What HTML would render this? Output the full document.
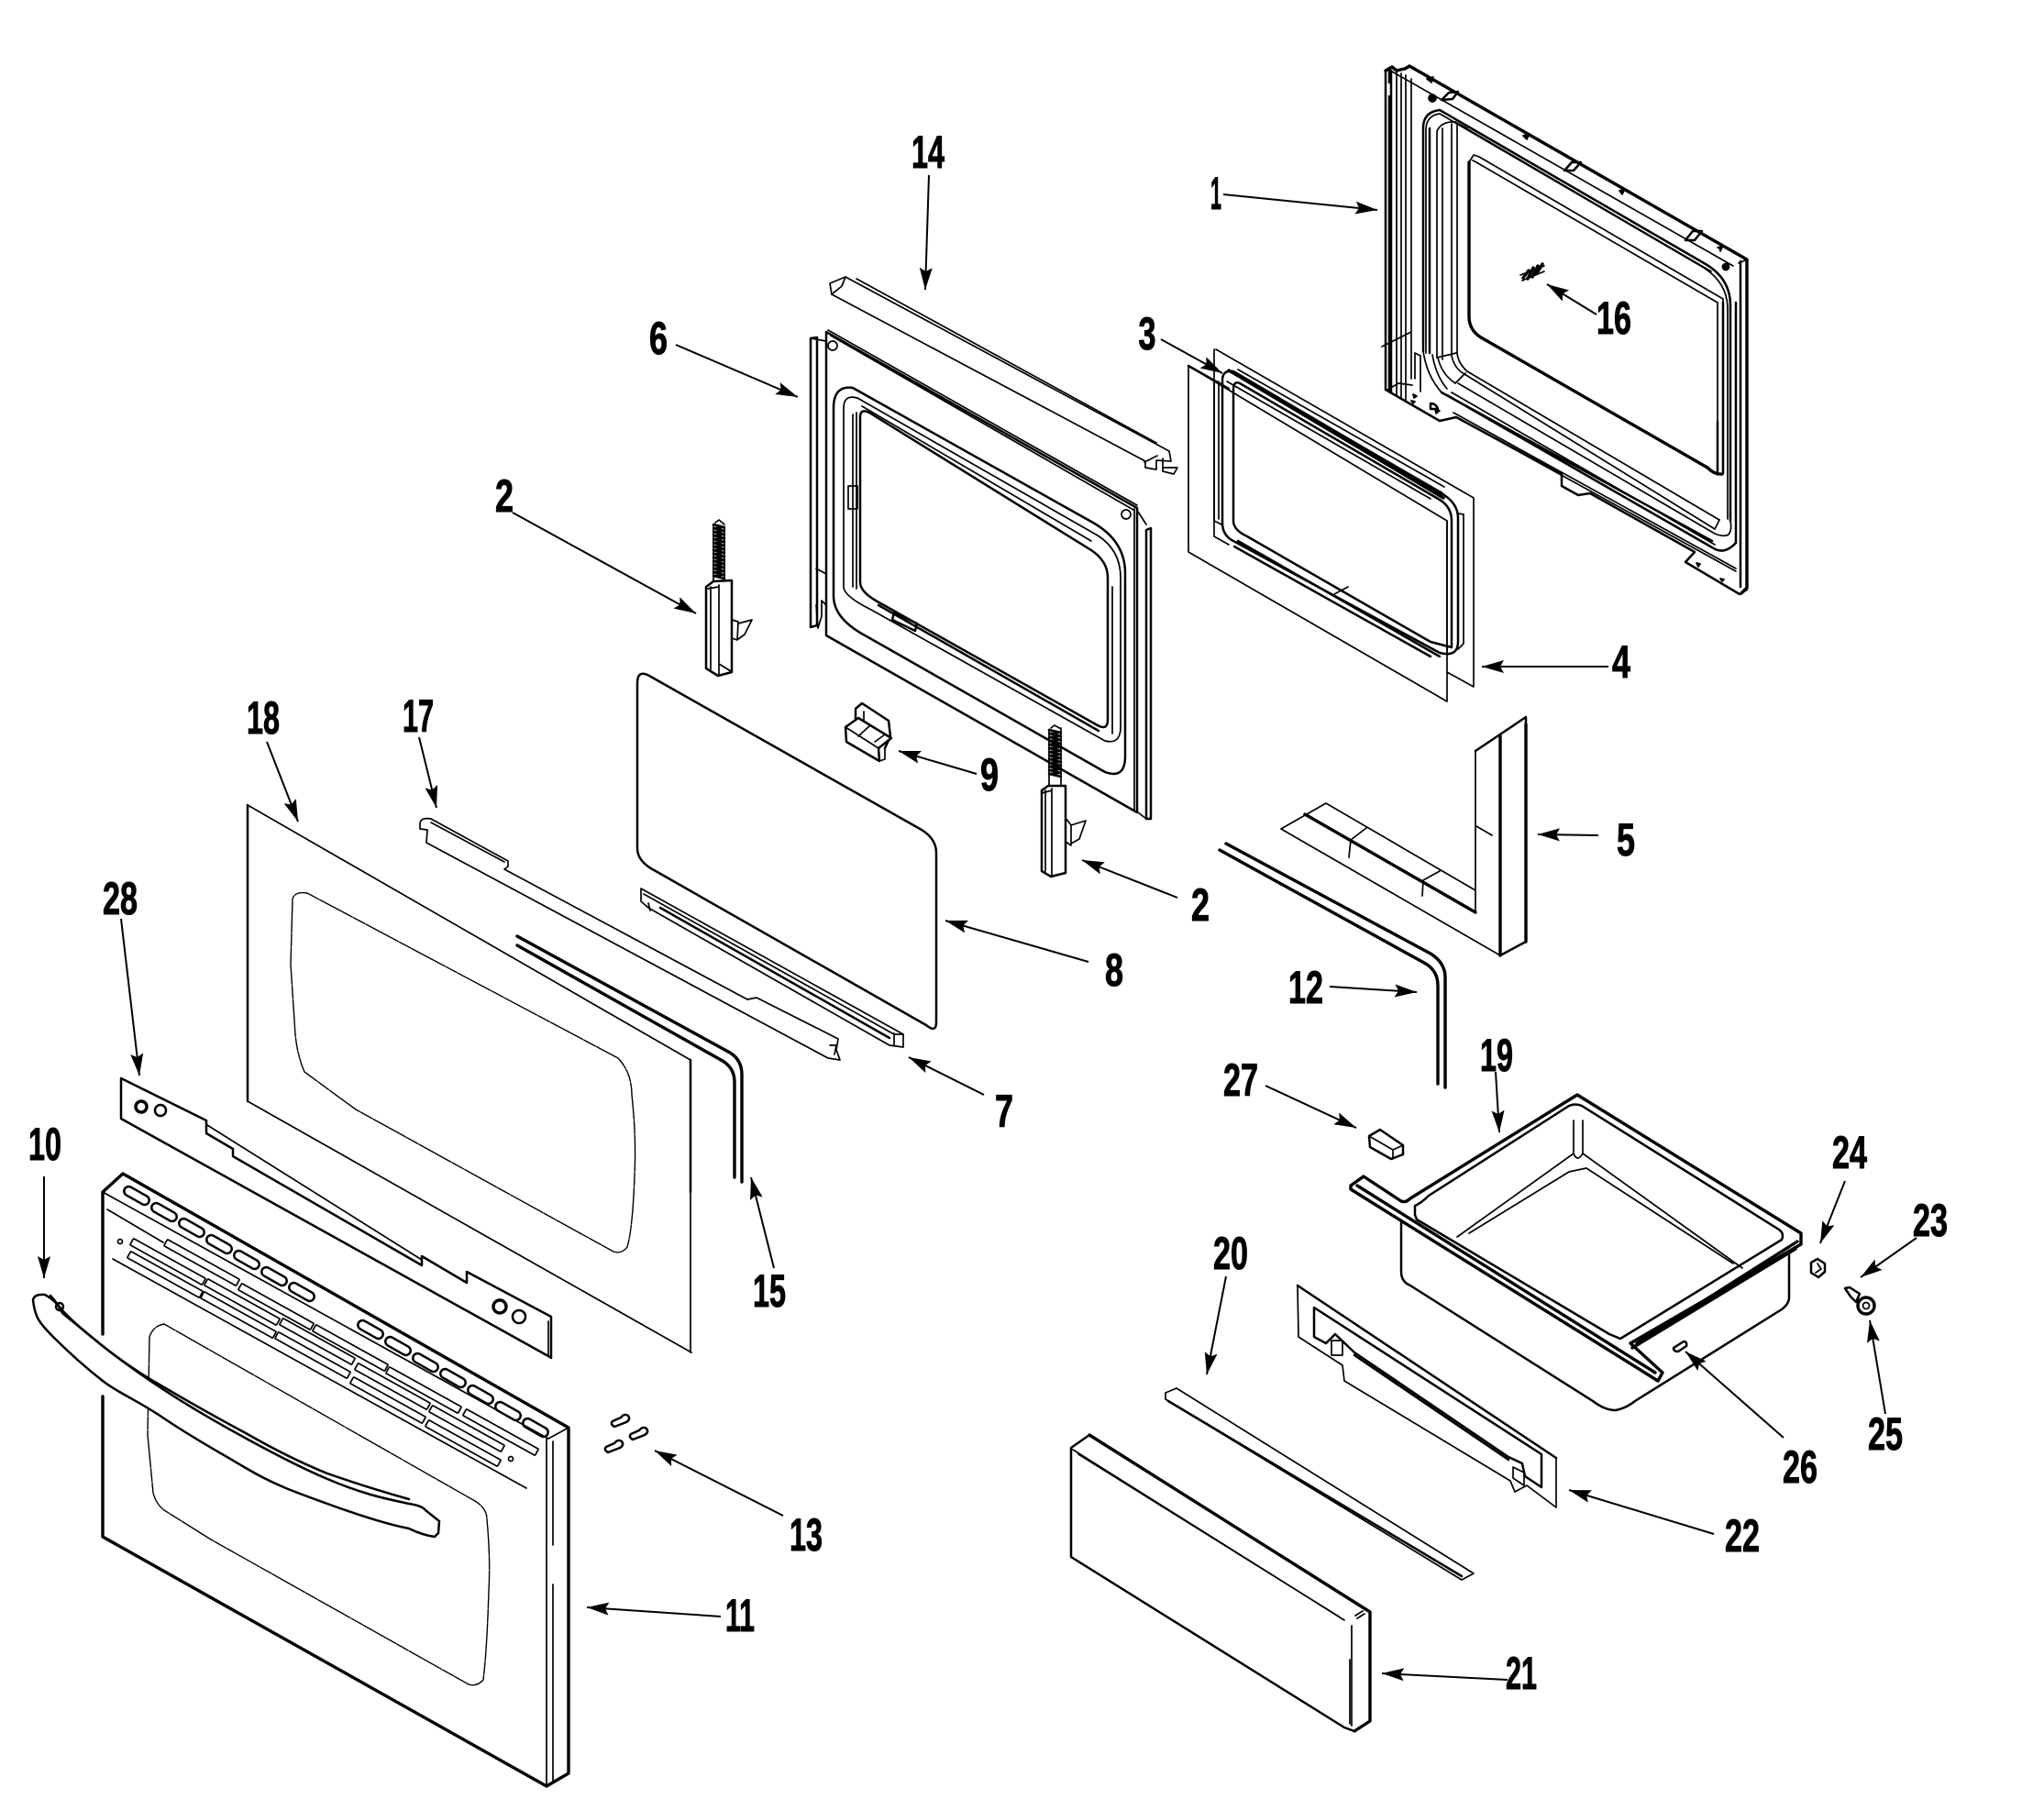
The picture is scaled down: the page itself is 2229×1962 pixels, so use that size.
<!DOCTYPE html>
<html><head><meta charset="utf-8"><title>Door and drawer parts diagram</title>
<style>
html,body{margin:0;padding:0;background:#fff}
svg{display:block}
text{font-family:"Liberation Sans Narrow","Liberation Sans",sans-serif;font-weight:bold;font-size:50px;fill:#000;text-anchor:middle;stroke:#000;stroke-width:1}
.p path,.p line,.p polyline,.p polygon,.p rect,.p circle{fill:none;stroke:#000;stroke-width:1.7;stroke-linejoin:round;stroke-linecap:round}
.p .t{stroke-width:3.4}
.p .m{stroke-width:2.5}
.p .d{stroke-width:1.4;stroke-dasharray:14 1.5 40 1.5}
.p .w{fill:#fff}
.p .k{fill:#000}
.a line{stroke:#000;stroke-width:2;marker-end:url(#ah)}
</style></head><body>
<svg width="2229" height="1962" viewBox="0 0 2229 1962" xmlns="http://www.w3.org/2000/svg">
<defs><marker id="ah" markerUnits="userSpaceOnUse" markerWidth="26" markerHeight="16" refX="24" refY="7" orient="auto"><path d="M0,0L24,7L0,14L4,7Z" fill="#000"/></marker></defs>
<rect width="2229" height="1962" fill="#fff"/>

<g class="p">
<!-- Part 1 outline -->
<path class="t" d="M1511,77L1518,73L1523,77L1532,75L1537,72L1905,283V641L1899,647"/>
<path class="m" d="M1511,77V425L1563,455L1570,459L1588,455L1703,517V530L1721,540L1734,538L1848,602L1838,613L1897,648L1905,643"/>
<path class="m" d="M1517,77V428M1515,77V90M1515,105V425"/>
<path d="M1523,79V432M1528,80V434M1533,82V436M1539,86V413M1518,78L1890,290M1507,378L1539,362M1543,385V413M1549,388V427M1543,385L1549,388M1513,425L1525,418L1540,420"/>
<path class="m" d="M1887,333V568M1893,330V592M1898,285V640"/>
<path d="M1896,287L1905,283"/>
<!-- Part 1 frame -->
<path class="m" d="M1552,383V138Q1553,122 1570,120L1860,288Q1887,304 1887,333"/>
<path d="M1555,385V140Q1556,126 1570,124L1858,292Q1883,308 1884,335V566"/>
<path class="m" d="M1559,385V140"/>
<path d="M1567,390V143Q1572,132 1587,133L1600,140M1573,392V140M1583,388V135M1589,385V134"/>
<path d="M1567,390L1588,385M1587,418L1598,407M1552,383Q1556,410 1572,428M1562,387Q1566,410 1578,424M1568,390Q1572,408 1587,418M1583,388Q1586,402 1597,408M1589,385Q1590,396 1600,405"/>
<path d="M1570,120L1868,293M1587,133L1866,296"/>
<path d="M1600,405L1875,567M1597,408L1870,577M1590,418L1870,582Q1880,586 1885,583Q1889,578 1887,568"/>
<path class="m" d="M1572,428L1867,590M1578,431L1867,597Q1880,606 1893,592"/>
<path d="M1583,428L1870,594M1585,450L1893,620M1588,455L1893,623M1875,567L1870,577"/>
<!-- Part 1 window -->
<path class="t" d="M1602,177V345Q1602,360 1615,368L1862,510Q1870,518 1878,517"/>
<path d="M1602,177L1607,169L1613,171L1879,326V516M1610,177L1873,330V515M1606,175L1612,178"/>
<path class="m" d="M1873,460V517M1879,330V516"/>
<!-- Part 1 details -->
<path class="m" d="M1572,109L1580,101L1590,100L1584,108Z"/>
<path class="m" d="M1706,186L1714,177L1724,177L1716,186ZM1838,262L1846,252L1856,252L1848,262Z"/>
<circle class="k" cx="1562" cy="107" r="4"/><circle class="k" cx="1882" cy="291" r="3.5"/>
<path class="k" d="M1556,86L1563,84L1561,90ZM1661,148L1668,146L1665,152ZM1766,208L1772,206L1769,212ZM1873,270L1879,268L1876,274"/>
<path class="k" d="M1541,430L1545,432L1542,434ZM1539,437L1543,438L1541,440ZM1565,446L1570,448L1566,451ZM1850,614L1854,615L1852,618ZM1876,631L1880,632L1878,634Z"/>
<path class="m" d="M1560,440Q1566,440 1568,446L1560,446Z"/>
<!-- 16 spring -->
<path class="t" d="M1661,303L1667,295M1666,304L1672,292M1671,302L1677,290M1676,298L1682,288"/>
<path d="M1658,300L1684,290M1660,306L1684,296"/>

<!-- Part 3 / 4 -->
<path d="M1326,381L1607,543V749L1578,733M1324,585V381M1324,585L1340,594"/>
<path d="M1296,399L1578,568V765L1296,602Z"/>
<path class="m" d="M1296,399L1340,424"/>
<path class="m" d="M1333,570V415Q1333,403 1345,405L1575,540Q1590,550 1590,565V700Q1590,717 1570,712L1345,590Q1333,584 1333,570Z"/>
<path class="m" d="M1345,568V425Q1345,415 1352,418L1570,545Q1583,553 1583,568V706L1560,700L1360,585Q1345,578 1345,568Z"/>
<path class="t" d="M1340,404L1572,538M1352,411L1574,543"/>
<path d="M1338,416L1560,544M1350,403L1575,531M1324,416V568L1332,572M1329,416V566M1590,560L1596,561V702L1590,708M1578,568V710M1455,648L1470,640"/>
<path class="m" d="M1350,590L1570,716M1346,596L1560,716"/>

<!-- Part 6 -->
<path class="m" d="M901,362L1240,554V886L901,693Z"/>
<path d="M906,366L1236,556M1237,555V885M903,360L1240,551"/>
<path class="m" d="M884,369V684L891,682V368ZM1250,578V893L1255,893V576Z"/>
<path d="M884,369L901,372M890,620L901,626M890,660L892,685L896,672V655L901,660M1241,558L1250,572M1241,886L1250,893"/>
<circle cx="908" cy="377" r="5"/><circle cx="1228" cy="561" r="5"/>
<path class="m" d="M909,650V445Q909,420 930,423L1192,570Q1227,590 1227,625V825Q1227,850 1205,842L945,694Q909,675 909,650Z"/>
<path d="M920,640V445Q920,430 935,434L1197,584Q1222,600 1222,630V795Q1221,812 1205,808L950,665Q920,650 920,640Z"/>
<path class="m" d="M938,635V455Q938,445 948,450L1190,600Q1208,612 1208,630V785Q1208,798 1195,790L955,655Q938,645 938,635Z"/>
<path d="M930,452V640M934,450V642M925,530H935V555H925ZM940,443L1190,590M1213,640V800"/>
<path class="m" d="M958,660L1198,797"/>
<path class="m" d="M975,668L1000,680L998,688L973,676Z"/>

<!-- Part 14 -->
<path d="M905,309L922,302L1275,492L1277,503L1261,502L1261,512L1249,510V503L907,321Z"/>
<path d="M934,304L1261,483M922,302L918,312L907,321M1248,504L1262,497M1268,500L1268,510L1284,510L1280,517L1268,514Z"/>

<!-- Hinges -->
<path class="m" d="M778,572l12,3l-12,1l12,3l-12,1l12,3l-12,1l12,3l-12,1l12,3l-12,1l12,3l-12,1l12,3l-12,1l12,3l-12,1l12,3l-12,1l12,3l-12,1l12,3l-12,1l12,3l-12,1l12,3l-12,1l12,3l-12,1l12,3"/>
<path d="M778,572V634M790,575V634M780,570L784,567L790,572"/>
<path class="m w" d="M770,640L778,634L798,633V733L783,737L770,729Z"/>
<path d="M775,640V730M784,638V735M772,642L784,640M784,724L797,732M798,676L805,678L804,698L798,696M805,680L820,676L812,692L805,697"/>
<path class="m" d="M1144,796l13,3l-13,1l13,3l-13,1l13,3l-13,1l13,3l-13,1l13,3l-13,1l13,3l-13,1l13,3l-13,1l13,3l-13,1l13,3l-13,1l13,3l-13,1l13,3l-13,1l13,3l-13,1l13,3"/>
<path d="M1144,796V858M1157,794V858M1146,794L1150,791L1157,795"/>
<path class="m w" d="M1136,862L1143,857L1162,857V952L1146,956L1136,950Z"/>
<path d="M1140,862V950M1147,860V955M1136,865L1147,862M1162,892L1168,900V922L1162,918M1168,900L1184,895L1177,915L1168,920"/>

<!-- Part 9 -->
<path class="m w" d="M933,788V773L940,767L969,786L971,803L965,816"/>
<path class="m w" d="M922,793L936,783L972,805L958,816L959,830L923,809Z"/>
<path d="M922,793L958,816M936,803L949,791M954,809L965,801M942,776V786M965,816V828L959,830"/>

<!-- Glass 8 -->
<path class="m" d="M695,925V745Q695,730 708,737L1005,905Q1021,915 1021,930V1115Q1021,1127 1010,1118L715,950Q695,940 695,925Z"/>
<!-- Part 7 -->
<path d="M699,969L985,1128V1142L970,1140L707,990L699,983Z"/>
<path d="M707,985L709,993M702,975L975,1128M975,1127V1140M985,1128L975,1128"/>
<path class="m" d="M720,990L970,1132"/>

<!-- Part 17 -->
<path d="M458,899Q458,891 470,893L554,939L554,945L550,948L815,1090L825,1088L914,1133L912,1145L916,1156L903,1154L465,919L466,905L458,904Z"/>
<path d="M470,897L550,940M905,1140L912,1140L910,1150"/>

<!-- Part 18 -->
<path d="M270,1201L754,1475M270,878L753,1156"/>
<path class="m" d="M270,878V1201M753,1156V1300"/><path d="M753,1300V1475"/>
<path class="d" d="M335,974L674,1154Q689,1170 689,1194Q694,1240 692,1281Q690,1340 684,1360Q678,1368 669,1365L388,1210L332,1169Q324,1150 322,1128L317,1052L319,980Q322,972 335,974Z"/>

<!-- Part 15 -->
<path class="t" d="M564,1021L796,1148Q809,1156 809,1172V1289"/>
<path class="t" d="M564,1031L788,1157Q801,1165 801,1180V1284"/>

<!-- Part 28 -->
<path class="m" d="M132,1176L225,1222V1236L254,1253V1261L460,1380V1370L509,1399V1387L601,1436V1481L598,1479L132,1220Z"/>
<path d="M226,1227L460,1374M598,1441V1479"/>
<circle class="t" cx="154" cy="1207" r="6"/><circle class="m" cx="175" cy="1211" r="6"/>
<circle class="t" cx="545" cy="1425" r="7"/><circle class="m" cx="566" cy="1436" r="7"/>

<!-- Part 11 -->
<path class="t" d="M112,1455V1300L134,1280L620,1557V1934L596,1948L112,1676V1523"/>
<path d="M112,1300L598,1569L620,1557M596,1569V1946M603,1572V1685M603,1728V1944"/>
<path d="M117,1319L178,1355M123,1373L574,1623"/>
<g><rect x="134" y="1299" width="30" height="10" rx="5" transform="rotate(29.5 149 1304)" class="m"/>
<rect x="164" y="1317" width="30" height="10" rx="5" transform="rotate(29.5 179 1322)" class="m"/>
<rect x="194" y="1334" width="30" height="10" rx="5" transform="rotate(29.5 209 1339)" class="m"/>
<rect x="224" y="1352" width="30" height="10" rx="5" transform="rotate(29.5 239 1357)" class="m"/>
<rect x="254" y="1369" width="30" height="10" rx="5" transform="rotate(29.5 269 1374)" class="m"/>
<rect x="284" y="1387" width="30" height="10" rx="5" transform="rotate(29.5 299 1392)" class="m"/>
<rect x="314" y="1404" width="30" height="10" rx="5" transform="rotate(29.5 329 1409)" class="m"/>
<rect x="389" y="1445" width="30" height="10" rx="5" transform="rotate(29.5 404 1450)" class="m"/>
<rect x="419" y="1463" width="30" height="10" rx="5" transform="rotate(29.5 434 1468)" class="m"/>
<rect x="449" y="1481" width="30" height="10" rx="5" transform="rotate(29.5 464 1486)" class="m"/>
<rect x="479" y="1498" width="30" height="10" rx="5" transform="rotate(29.5 494 1503)" class="m"/>
<rect x="509" y="1516" width="30" height="10" rx="5" transform="rotate(29.5 524 1521)" class="m"/>
<rect x="539" y="1534" width="30" height="10" rx="5" transform="rotate(29.5 554 1539)" class="m"/>
<rect x="569" y="1552" width="30" height="10" rx="5" transform="rotate(29.5 584 1557)" class="m"/>
</g>
<g>
<rect x="175" y="1373" width="90" height="8" rx="1" transform="rotate(29 220 1377)"/>
<rect x="256" y="1421" width="90" height="8" rx="1" transform="rotate(29 301 1425)"/>
<rect x="337" y="1466" width="90" height="8" rx="1" transform="rotate(29 382 1470)"/>
<rect x="417" y="1512" width="90" height="8" rx="1" transform="rotate(29 462 1516)"/>
<rect x="501" y="1558" width="90" height="8" rx="1" transform="rotate(29 546 1562)"/>
<rect x="138" y="1372" width="90" height="8" rx="1" transform="rotate(29 183 1376)"/>
<rect x="219" y="1416" width="90" height="8" rx="1" transform="rotate(29 264 1420)"/>
<rect x="301" y="1459" width="90" height="8" rx="1" transform="rotate(29 346 1463)"/>
<rect x="383" y="1508" width="90" height="8" rx="1" transform="rotate(29 428 1512)"/>
<rect x="464" y="1554" width="90" height="8" rx="1" transform="rotate(29 509 1558)"/>
<rect x="135" y="1386" width="90" height="8" rx="1" transform="rotate(29 180 1390)"/>
<rect x="215" y="1430" width="90" height="8" rx="1" transform="rotate(29 260 1434)"/>
<rect x="296" y="1474" width="90" height="8" rx="1" transform="rotate(29 341 1478)"/>
<rect x="378" y="1523" width="90" height="8" rx="1" transform="rotate(29 423 1527)"/>
<rect x="460" y="1570" width="90" height="8" rx="1" transform="rotate(29 505 1574)"/>
</g>
<circle cx="131" cy="1354" r="2.5"/><circle cx="557" cy="1591" r="2.5"/>
<path class="d" d="M179,1444L518,1637Q531,1645 531,1657Q535,1700 533,1735Q531,1800 527,1832Q520,1840 511,1837L230,1679L179,1647Q170,1640 167,1628L161,1565L163,1458Q167,1446 179,1444Z"/>
<!-- Handle 10 -->
<path class="m w" d="M36,1418Q37,1411 49,1412Q60,1418 67,1428C85,1448 130,1484 179,1516S310,1593 357,1613S430,1636 446,1640Q460,1642 464,1647L479,1659L478,1672L474,1676Q460,1674 446,1667C420,1662 390,1652 357,1640S300,1620 268,1601S210,1568 179,1547S130,1520 112,1506S75,1475 58,1458S38,1435 36,1418Z"/>
<path class="m" d="M55,1413Q62,1420 68,1432C85,1446 100,1458 112,1468Q145,1494 179,1513Q225,1540 268,1563Q315,1590 357,1607Q400,1622 446,1635"/>
<circle class="m" cx="65" cy="1425" r="4"/>
<!-- screws 13 -->
<g class="m"><path class="m" d="M670,1556L683,1551Q688,1548 685,1544Q681,1541 677,1546L668,1550Q665,1553 670,1556Z"/>
<path class="m" d="M690,1570L703,1565Q708,1562 705,1558Q701,1555 697,1560L688,1564Q685,1567 690,1570Z"/>
<path class="m" d="M663,1584L676,1579Q681,1576 678,1572Q674,1569 670,1574L661,1578Q658,1581 663,1584Z"/></g>

<!-- Part 5 -->
<path d="M1397,904L1446,876L1609,971M1397,904L1636,1042M1609,819V995M1490,903L1473,916L1471,935M1570,950L1552,960L1551,977M1610,901L1627,911"/>
<path class="m" d="M1609,819L1664,782V1027L1636,1042V802"/>
<path class="t" d="M1636,802V1042M1664,790V1027M1423,888L1609,995"/>
<!-- Part 12 -->
<path class="t" d="M1337,920L1560,1040Q1576,1050 1576,1066V1186"/>
<path class="t" d="M1330,927L1553,1050Q1568,1058 1568,1075V1182"/>

<!-- Drawer 19 -->
<path class="m" d="M1528,1334V1387Q1528,1398 1538,1402L1737,1528Q1750,1538 1762,1538Q1773,1536 1783,1528L1943,1428Q1951,1422 1951,1415V1365"/>
<path class="t w" d="M1473,1293L1487,1283L1528,1310Q1533,1312 1538,1307L1720,1194L1964,1345V1357L1778,1465L1813,1497L1808,1506L1473,1297Z"/>
<path class="m" d="M1543,1325V1315Q1550,1312 1558,1304L1711,1206Q1718,1203 1725,1206L1940,1341Q1946,1345 1943,1352L1767,1460L1755,1455L1545,1330Z"/>
<path class="t" d="M1480,1293L1805,1497M1785,1465L1960,1354M1780,1470L1958,1362"/>
<path d="M1716,1222V1258L1589,1349M1726,1222V1258L1900,1383M1711,1278L1602,1345M1730,1274L1890,1378M1716,1258Q1720,1268 1726,1258M1711,1278Q1720,1276 1730,1274"/>
<!-- 27 -->
<path class="m" d="M1493,1239L1505,1232L1530,1249V1259L1517,1264L1494,1251Z"/>
<path d="M1493,1239L1519,1254L1530,1249M1519,1254V1264"/>
<!-- 24,23,25,26 -->
<path class="m" d="M1975,1377L1982,1373L1990,1378V1387L1983,1393L1975,1388Z"/><path d="M1982,1378L1986,1384L1980,1388"/>
<path class="m" d="M2012,1405L2017,1404L2028,1411L2024,1420L2018,1414Z"/>
<circle class="t" cx="2035" cy="1424" r="9"/><circle cx="2035" cy="1424" r="3.5"/>
<path class="m" d="M1825,1470L1836,1463Q1840,1463 1839,1468L1830,1474Q1825,1474 1825,1470Z"/>
<!-- Part 20 -->
<path d="M1271,1519L1283,1514L1607,1716L1594,1723L1271,1526Z"/>
<path class="m" d="M1274,1528L1594,1719"/>
<!-- Part 22 -->
<path d="M1415,1402L1416,1458L1464,1489L1466,1506L1647,1615L1652,1627L1665,1620L1697,1644V1590"/>
<path class="m" d="M1415,1402L1697,1590"/>
<path class="m" d="M1433,1426L1681,1586V1622L1663,1610L1660,1596L1645,1589L1477,1475L1456,1455L1446,1465L1433,1458Z"/>
<path class="m" d="M1477,1478L1645,1592"/>
<path d="M1452,1462H1464V1478H1452ZM1650,1600L1662,1606V1620L1650,1612Z"/>
<!-- Part 21 -->
<path class="m" d="M1168,1579L1188,1565L1494,1758V1877L1477,1888L1466,1884L1168,1698Z"/>
<path class="t" d="M1188,1565L1494,1758V1877L1477,1888"/>
<path d="M1170,1581L1466,1767M1176,1586L1460,1763M1474,1773V1882M1472,1810V1880M1480,1765L1488,1760M1478,1762L1486,1757"/>
</g>

<!-- Leader arrows -->
<g class="a">
<line x1="1334" y1="212" x2="1502" y2="229"/>
<line x1="1741" y1="343" x2="1687" y2="310"/>
<line x1="1754" y1="727" x2="1616" y2="727"/>
<line x1="1266" y1="370" x2="1333" y2="407"/>
<line x1="1013" y1="191" x2="1009" y2="316"/>
<line x1="737" y1="376" x2="870" y2="433"/>
<line x1="1065" y1="844" x2="980" y2="819"/>
<line x1="559" y1="559" x2="759" y2="669"/>
<line x1="1284" y1="979" x2="1180" y2="938"/>
<line x1="1187" y1="1049" x2="1031" y2="1004"/>
<line x1="1073" y1="1194" x2="991" y2="1153"/>
<line x1="457" y1="804" x2="476" y2="881"/>
<line x1="291" y1="809" x2="325" y2="896"/>
<line x1="844" y1="1383" x2="819" y2="1284"/>
<line x1="132" y1="1002" x2="152" y2="1173"/>
<line x1="48" y1="1283" x2="48" y2="1394"/>
<line x1="854" y1="1653" x2="714" y2="1582"/>
<line x1="786" y1="1763" x2="640" y2="1753"/>
<line x1="1743" y1="911" x2="1677" y2="910"/>
<line x1="1450" y1="1076" x2="1545" y2="1082"/>
<line x1="1631" y1="1169" x2="1635" y2="1235"/>
<line x1="1380" y1="1184" x2="1479" y2="1230"/>
<line x1="1337" y1="1392" x2="1316" y2="1499"/>
<line x1="1869" y1="1673" x2="1711" y2="1625"/>
<line x1="1644" y1="1832" x2="1507" y2="1825"/>
<line x1="1945" y1="1568" x2="1838" y2="1474"/>
<line x1="2012" y1="1288" x2="1985" y2="1356"/>
<line x1="2090" y1="1350" x2="2029" y2="1393"/>
<line x1="2056" y1="1542" x2="2039" y2="1440"/>
</g>

<!-- Labels -->
<g transform="translate(0,-2)">
<text x="1326" y="230" textLength="12" lengthAdjust="spacingAndGlyphs">1</text>
<text x="1760" y="366" textLength="38" lengthAdjust="spacingAndGlyphs">16</text>
<text x="1768" y="741" textLength="20" lengthAdjust="spacingAndGlyphs">4</text>
<text x="1251" y="383" textLength="19" lengthAdjust="spacingAndGlyphs">3</text>
<text x="1012" y="185" textLength="36" lengthAdjust="spacingAndGlyphs">14</text>
<text x="718" y="388" textLength="20" lengthAdjust="spacingAndGlyphs">6</text>
<text x="1079" y="864" textLength="20" lengthAdjust="spacingAndGlyphs">9</text>
<text x="550" y="560" textLength="20" lengthAdjust="spacingAndGlyphs">2</text>
<text x="1309" y="1006" textLength="20" lengthAdjust="spacingAndGlyphs">2</text>
<text x="1215" y="1077" textLength="20" lengthAdjust="spacingAndGlyphs">8</text>
<text x="1095" y="1231" textLength="20" lengthAdjust="spacingAndGlyphs">7</text>
<text x="456" y="800" textLength="34" lengthAdjust="spacingAndGlyphs">17</text>
<text x="287" y="802" textLength="36" lengthAdjust="spacingAndGlyphs">18</text>
<text x="839" y="1427" textLength="36" lengthAdjust="spacingAndGlyphs">15</text>
<text x="131" y="999" textLength="38" lengthAdjust="spacingAndGlyphs">28</text>
<text x="49" y="1267" textLength="36" lengthAdjust="spacingAndGlyphs">10</text>
<text x="879" y="1693" textLength="36" lengthAdjust="spacingAndGlyphs">13</text>
<text x="807" y="1781" textLength="32" lengthAdjust="spacingAndGlyphs">11</text>
<text x="1773" y="935" textLength="20" lengthAdjust="spacingAndGlyphs">5</text>
<text x="1424" y="1096" textLength="38" lengthAdjust="spacingAndGlyphs">12</text>
<text x="1632" y="1170" textLength="36" lengthAdjust="spacingAndGlyphs">19</text>
<text x="1353" y="1197" textLength="38" lengthAdjust="spacingAndGlyphs">27</text>
<text x="1342" y="1386" textLength="38" lengthAdjust="spacingAndGlyphs">20</text>
<text x="1900" y="1694" textLength="38" lengthAdjust="spacingAndGlyphs">22</text>
<text x="1659" y="1844" textLength="34" lengthAdjust="spacingAndGlyphs">21</text>
<text x="1963" y="1619" textLength="38" lengthAdjust="spacingAndGlyphs">26</text>
<text x="2017" y="1276" textLength="38" lengthAdjust="spacingAndGlyphs">24</text>
<text x="2105" y="1350" textLength="38" lengthAdjust="spacingAndGlyphs">23</text>
<text x="2056" y="1583" textLength="38" lengthAdjust="spacingAndGlyphs">25</text>
</g>
</svg>
</body></html>
